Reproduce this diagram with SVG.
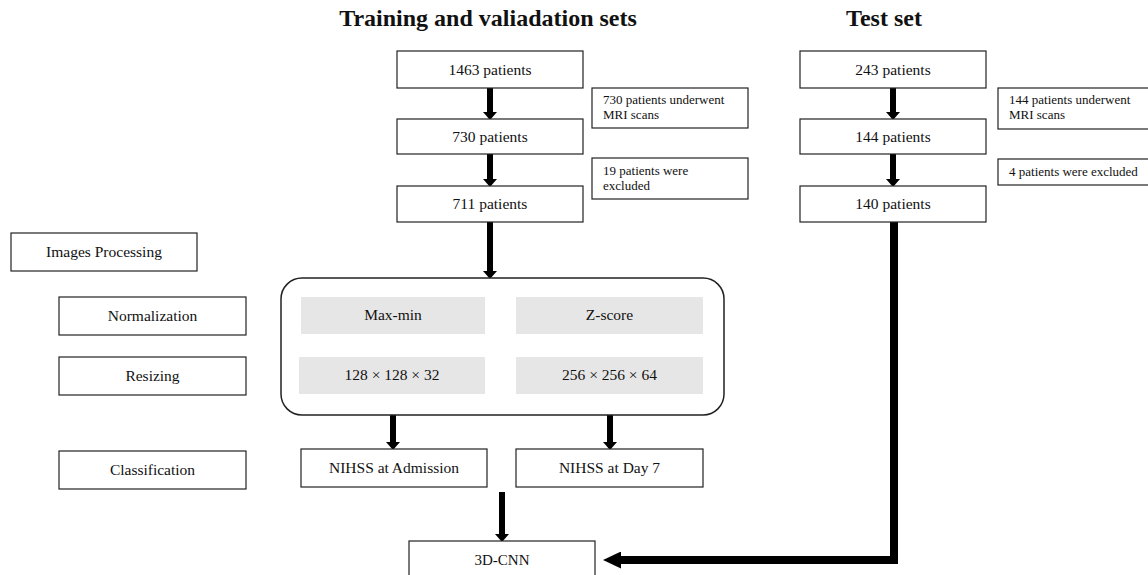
<svg xmlns="http://www.w3.org/2000/svg" width="1148" height="575" viewBox="0 0 1148 575">
<style>
text{font-family:"Liberation Serif","Times New Roman",serif;fill:#111}
.title{font-size:24px;font-weight:bold;text-anchor:middle}
.lbl{font-size:15.5px;text-anchor:middle}
.note{font-size:13px}
.box{fill:#fff;stroke:#222;stroke-width:1.2}
.gray{fill:#e7e6e6;stroke:none}
.cont{fill:#fff;stroke:#222;stroke-width:1.5}
.arr{stroke:#000;stroke-width:6;fill:none;marker-end:url(#ah)}
.big{stroke:#000;stroke-width:8;fill:none;stroke-linejoin:miter;marker-end:url(#ahb)}
</style>
<defs>
<marker id="ah" markerUnits="userSpaceOnUse" viewBox="0 0 8 14" markerWidth="8" markerHeight="14" refX="0" refY="7" orient="auto">
<path d="M0,0 L8,7 L0,14 z" fill="#000"/>
</marker>
<marker id="ahb" markerUnits="userSpaceOnUse" viewBox="0 0 18 17" markerWidth="18" markerHeight="17" refX="0" refY="8.5" orient="auto">
<path d="M0,0 L18,8.5 L0,17 z" fill="#000"/>
</marker>
</defs>
<rect width="1148" height="575" fill="#fff"/>

<text class="title" x="488" y="26">Training and valiadation sets</text>
<text class="title" x="884" y="26">Test set</text>

<g id="connectors">
<line class="arr" x1="490" y1="88" x2="490" y2="112"/>
<line class="arr" x1="490" y1="154" x2="490" y2="179"/>
<line class="arr" x1="490" y1="222" x2="490" y2="271"/>
<line class="arr" x1="893" y1="88" x2="893" y2="112"/>
<line class="arr" x1="893" y1="154" x2="893" y2="179"/>
<line class="arr" x1="393" y1="415" x2="393" y2="442"/>
<line class="arr" x1="610" y1="415" x2="610" y2="442"/>
<line class="arr" x1="502" y1="492" x2="502" y2="534"/>
<polyline class="big" points="894,222 894,560 621,560"/>
</g>

<g id="n1463"><rect class="box" x="397" y="51" width="186" height="37"/><text class="lbl" x="490" y="75">1463 patients</text></g>
<g id="n730"><rect class="box" x="397" y="119" width="186" height="35"/><text class="lbl" x="490" y="142">730 patients</text></g>
<g id="n711"><rect class="box" x="397" y="186" width="186" height="36"/><text class="lbl" x="490" y="209">711 patients</text></g>
<g id="note730"><rect class="box" x="592" y="88" width="156" height="40"/><text class="note" x="603" y="104">730 patients underwent</text><text class="note" x="603" y="119">MRI scans</text></g>
<g id="note19"><rect class="box" x="592" y="158" width="156" height="41"/><text class="note" x="603" y="175">19 patients were</text><text class="note" x="603" y="190">excluded</text></g>

<g id="n243"><rect class="box" x="800" y="51" width="186" height="37"/><text class="lbl" x="893" y="75">243 patients</text></g>
<g id="n144"><rect class="box" x="800" y="119" width="186" height="35"/><text class="lbl" x="893" y="142">144 patients</text></g>
<g id="n140"><rect class="box" x="800" y="186" width="186" height="36"/><text class="lbl" x="893" y="209">140 patients</text></g>
<g id="note144"><rect class="box" x="998" y="88" width="170" height="41"/><text class="note" x="1009" y="104">144 patients underwent</text><text class="note" x="1009" y="119">MRI scans</text></g>
<g id="note4"><rect class="box" x="998" y="159" width="170" height="26"/><text class="note" x="1009" y="176">4 patients were excluded</text></g>

<g id="imgproc"><rect class="box" x="11" y="233" width="186" height="38"/><text class="lbl" x="104" y="257">Images Processing</text></g>
<g id="normalization"><rect class="box" x="59" y="297" width="187" height="38"/><text class="lbl" x="152.5" y="321">Normalization</text></g>
<g id="resizing"><rect class="box" x="59" y="357" width="187" height="38"/><text class="lbl" x="152.5" y="381">Resizing</text></g>
<g id="classification"><rect class="box" x="59" y="451" width="187" height="38"/><text class="lbl" x="152.5" y="475">Classification</text></g>

<g id="container">
<rect class="cont" x="281" y="278" width="443" height="137" rx="21" ry="21"/>
</g>
<g id="maxmin"><rect class="gray" x="301" y="297" width="184" height="37"/><text class="lbl" x="393" y="320">Max-min</text></g>
<g id="zscore"><rect class="gray" x="516" y="297" width="187" height="37"/><text class="lbl" x="609.5" y="320">Z-score</text></g>
<g id="size128"><rect class="gray" x="299" y="357" width="186" height="37"/><text class="lbl" x="392" y="380">128 × 128 × 32</text></g>
<g id="size256"><rect class="gray" x="516" y="357" width="187" height="37"/><text class="lbl" x="609.5" y="380">256 × 256 × 64</text></g>

<g id="nihssAdm"><rect class="box" x="301" y="449" width="186" height="38"/><text class="lbl" x="394" y="473">NIHSS at Admission</text></g>
<g id="nihssD7"><rect class="box" x="516" y="449" width="187" height="38"/><text class="lbl" x="609.5" y="473">NIHSS at Day 7</text></g>

<g id="cnn"><rect class="box" x="409" y="541" width="186" height="45"/><text class="lbl" x="502" y="565" style="font-size:15px">3D-CNN</text></g>
</svg>
